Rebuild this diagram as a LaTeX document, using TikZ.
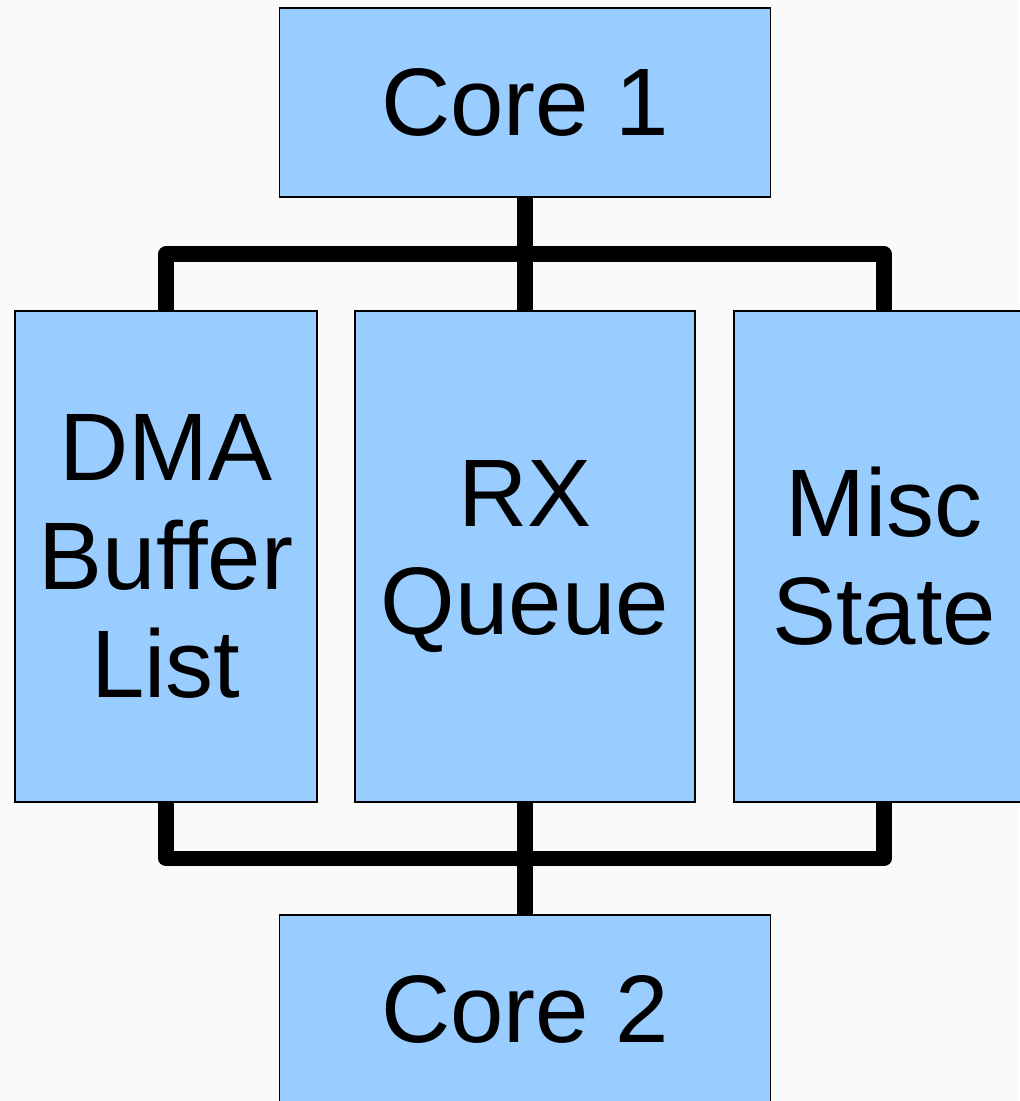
\documentclass[tikz,border=0pt]{standalone}
\usepackage{fontspec}
\setmainfont{Liberation Sans}[Ligatures={NoCommon}]
\usepackage{tikz}
\usetikzlibrary{arrows,shapes}
\pgfdeclarelayer{background}
\pgfsetlayers{background,main}
\definecolor{boxblue}{RGB}{153,204,255}
\definecolor{paper}{RGB}{250,250,250}
\tikzstyle{block}=[draw=black,line width=0.4pt,fill=boxblue,inner sep=0pt,outer sep=0pt,align=center,
  font=\fontsize{27.3}{30.8}\selectfont]
\tikzstyle{bus} = [draw,line width=4.3pt,line join=round,-]

\begin{document}
\begin{tikzpicture}
    \useasboundingbox (0,0) rectangle (10.19,11.01);
    % First we draw the blocks
    \node[block,minimum width=4.91cm,minimum height=1.89cm] (core1) at (5.25,9.985) {Core 1};
    \node[block,minimum width=3.02cm,minimum height=4.91cm] (dma) at (1.66,5.445) {DMA\\Buffer\\List};
    \node[block,minimum width=3.40cm,minimum height=4.91cm] (rx) at (5.25,5.445) {RX\\Queue};
    \node[block,minimum width=3.00cm,minimum height=4.91cm] (misc) at (8.84,5.445) {Misc\\State};
    \node[block,minimum width=4.91cm,minimum height=1.89cm] (core2) at (5.25,0.915) {Core 2};
    % Junction points of the two buses
    \coordinate (topbus) at (5.25,8.47);
    \coordinate (lowbus) at (5.25,2.425);
    % Connect blocks with the buses
    \begin{pgfonlayer}{background}
        \fill[paper] (0,0) rectangle (10.19,11.01);
        \path[bus] (dma.north) |- (topbus) -| (misc.north);
        \path[bus] (core1.south) -- (rx.north);
        \path[bus] (dma.south) |- (lowbus) -| (misc.south);
        \path[bus] (rx.south) -- (core2.north);
    \end{pgfonlayer}
\end{tikzpicture}
\end{document}
